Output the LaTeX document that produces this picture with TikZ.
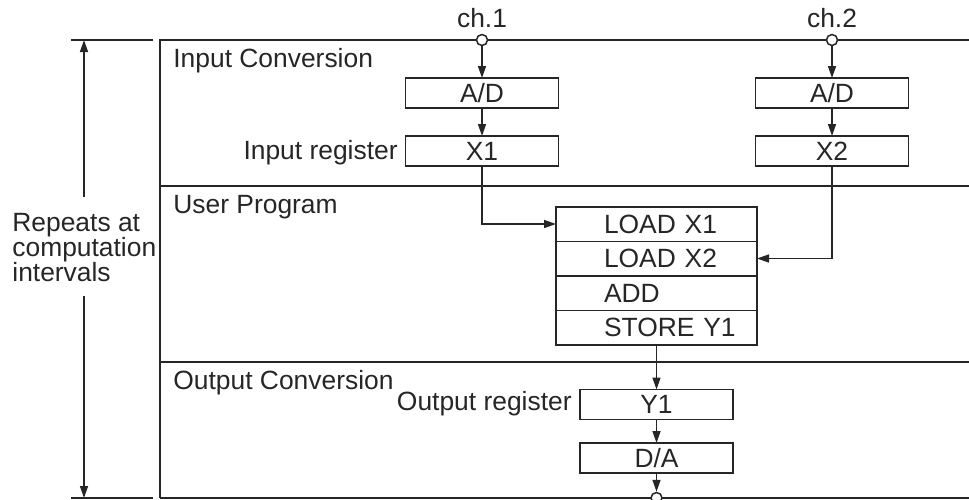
\documentclass[tikz,border=0pt]{standalone}
\usepackage{fontspec}
\setmainfont{Liberation Sans}
\usepackage{tikz}
\usetikzlibrary{arrows.meta}
\usetikzlibrary{positioning}
\colorlet{ink}{black!85}
\newcommand\op[1]{\hspace*{24pt}#1}
\tikzstyle{sighead}=[>/.tip={Triangle[length=6pt,width=4pt]}]
\tikzstyle{sig} =[line width=.75pt,ink,sighead,->]
\tikzstyle{wire}=[line width=.75pt,ink]
\tikzstyle{blk} =[draw=ink,line width=.75pt,minimum width=76.5pt,minimum height=15pt,inner sep=0pt,outer sep=0pt]
\tikzstyle{prog}=[draw=ink,line width=.75pt,text width=100.5pt,minimum height=17.25pt,inner sep=0pt,outer sep=0pt,align=left]
\tikzstyle{port}=[circle,draw=ink,fill=white,line width=.75pt,minimum size=5.5pt,inner sep=0pt]
\tikzstyle{sect}=[anchor=base west,inner sep=0pt]
\begin{document}
\begin{tikzpicture}[x=.5pt,y=-.5pt,font=\fontsize{13.2}{12.5}\selectfont,color=ink]
	\useasboundingbox (0,0) rectangle (969,499);
	% frame and sections
	\draw[wire] (160,498) -- (160,40) -- (969,40);
	\draw[wire] (160,186) -- (969,186);
	\draw[wire] (160,362) -- (969,362);
	\draw[wire] (160,498) -- (969,498);
	\draw[wire] (71,40) -- (153,40);
	\draw[wire] (71,498) -- (153,498);
	\node[sect] (inconv)  at (173,67)  {Input Conversion};
	\node[sect] (user)    at (173,213) {User Program};
	\node[sect] (outconv) at (173,389) {Output Conversion};
	% repeat span
	\node[anchor=west,inner sep=0pt,align=left] (rep) at (12,248) {Repeats at\\computation\\intervals};
	\coordinate (rtop) at (84,40);
	\coordinate (rbot) at (84,498);
	\draw[sig] (84,197) -- (rtop);
	\draw[sig] (84,296) -- (rbot);
	% inputs
	\node[port] (ch1) at (482,40) {};
	\node[port] (ch2) at (832,40) {};
	\node[anchor=base,inner sep=0pt] (ch1lab) at (482,27) {ch.1};
	\node[anchor=base,inner sep=0pt] (ch2lab) at (832,27) {ch.2};
	\node[blk] (ad1) at (482,93)  {A/D};
	\node[blk] (x1)  at (482,151) {X1};
	\node[blk] (ad2) at (832,93)  {A/D};
	\node[blk] (x2)  at (832,151) {X2};
	\node[anchor=base east,inner sep=0pt] (inreg) at (398,159) {Input register};
	% program
	\node[prog] (ld1) at (656.5,224) {\op{LOAD X1}};
	\node[prog,below=0pt of ld1] (ld2) {\op{LOAD X2}};
	\node[prog,below=0pt of ld2] (add) {\op{ADD}};
	\node[prog,below=0pt of add] (st)  {\op{STORE Y1}};
	% outputs
	\node[blk] (y1) at (656.5,404.5) {Y1};
	\node[blk] (da) at (656.5,458)   {D/A};
	\node[anchor=base east,inner sep=0pt] (outreg) at (572,410) {Output register};
	\node[port] (out) at (656.5,498) {};
	\draw[sig] (ch1) -- (ad1);
	\draw[sig] (ad1) -- (x1);
	\draw[sig] (ch2) -- (ad2);
	\draw[sig] (ad2) -- (x2);
	\draw[sig] (x1.south) |- (ld1.west);
	\draw[sig] (x2.south) |- (ld2.east);
	\draw[sig] (st) -- (y1);
	\draw[sig] (y1) -- (da);
	\draw[sig] (da) -- (out);
\end{tikzpicture}
\end{document}
